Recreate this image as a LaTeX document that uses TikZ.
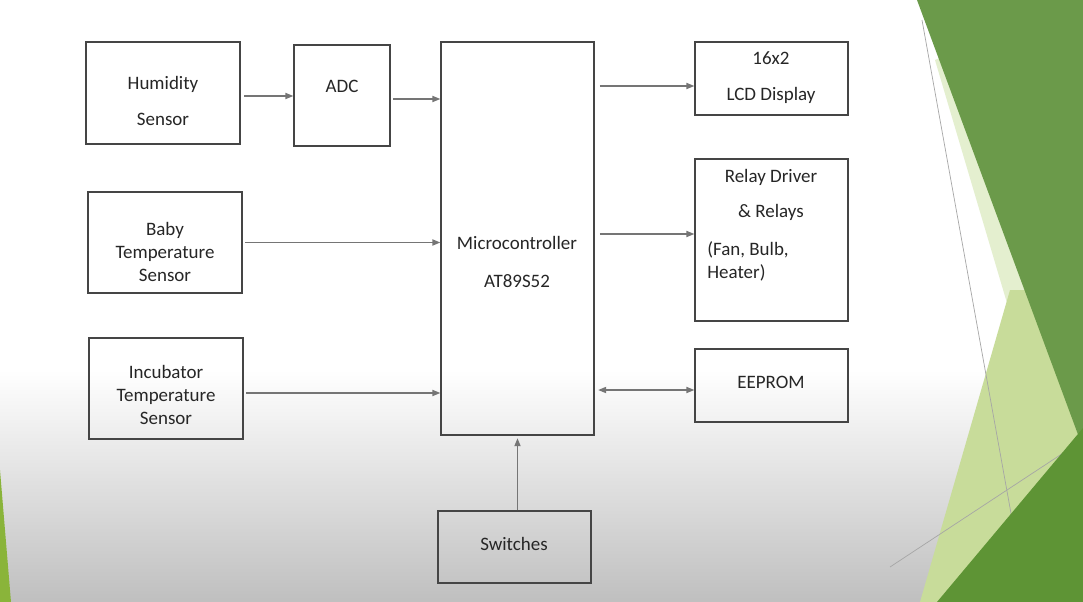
\documentclass[tikz,border=0pt]{standalone}
\usepackage{fontspec}
\setmainfont{Carlito}
\usepackage{tikz}
\usetikzlibrary{arrows.meta}

\definecolor{boxline}{HTML}{454545}
\definecolor{wire}{HTML}{757575}
\definecolor{ink}{HTML}{262626}
\definecolor{leafdark}{HTML}{6B9A4A}
\definecolor{leafmid}{HTML}{5E9435}
\definecolor{leaflight}{HTML}{C8DC9A}
\definecolor{leafpale}{HTML}{E4EFCF}
\definecolor{leafleft}{HTML}{8AB43A}

\begin{document}
\begin{tikzpicture}[x=0.02cm,y=-0.02cm,
  blk/.style={draw=boxline,line width=0.8pt,minimum width=3.06cm,inner sep=0pt},
  txt/.style={text=ink,align=center,inner sep=0pt,font=\fontsize{10.8}{13}\selectfont},
  arr/.style={draw=wire,line width=0.7pt,-{Triangle[length=4.5pt,width=3.5pt]},shorten <=1.5pt},
  bdir/.style={draw=wire,line width=0.7pt,{Triangle[length=4.5pt,width=3.5pt]}-{Triangle[length=4.5pt,width=3.5pt]}},
  edge line/.style={draw=gray!70,line width=0.4pt}]
\useasboundingbox (0,0) rectangle (1083,602);
% slide background
\fill[white] (0,0) rectangle (1083,602);
\shade[top color=white,bottom color=gray!50] (0,370) rectangle (1083,602);
\fill[leafleft] (0,470) -- (11,602) -- (0,602) -- cycle;
\fill[leafpale] (935,60) -- (1015,330) -- (1083,330) -- (1083,0) -- cycle;
\fill[leaflight] (920,602) -- (1010,290) -- (1083,290) -- (1083,602) -- cycle;
\draw[edge line] (922,20) -- (1027,602);
\fill[leafdark] (917,0) -- (1083,0) -- (1083,448) -- cycle;
\draw[edge line] (890,567) -- (1083,440);
\fill[leafmid] (937,602) -- (1083,428) -- (1083,602) -- cycle;

% blocks
\node[blk,minimum width=3.08cm,minimum height=2.04cm] (hum) at (163,93) {};
\node[blk,minimum width=1.92cm,minimum height=2.02cm] (adc) at (342,95.5) {};
\node[blk,minimum height=7.86cm] (mcu) at (517.5,238.5) {};
\node[blk,minimum height=1.46cm] (lcd) at (771.5,78.5) {};
\node[blk,minimum height=3.24cm] (relay) at (771.5,240) {};
\node[blk,minimum height=1.46cm] (eeprom) at (771.5,385.5) {};
\node[blk,minimum width=3.08cm,minimum height=2.02cm] (baby) at (165,242.5) {};
\node[blk,minimum width=3.08cm,minimum height=2.02cm] (incub) at (166,388.5) {};
\node[blk,minimum height=1.44cm] (sw) at (514.5,547) {};

% labels
\node[txt] (humtxt) at (163,101) {Humidity\\[7pt]Sensor};
\node[txt] (adctxt) at (342,86) {ADC};
\node[txt] (mcutxt) at (517,262) {Microcontroller\\[8.4pt]AT89S52};
\node[txt] (lcdtxt) at (771,78) {16x2\\[7.6pt]LCD Display};
\node[txt] (relaytxt) at (771,195) {Relay Driver\\[7pt]\& Relays};
\node[txt,align=left,anchor=west] (loadtxt) at (707,261.5) {(Fan, Bulb,\\Heater)};
\node[txt] (eeptxt) at (771,382) {EEPROM};
\node[txt] (babytxt) at (165,252) {Baby\\Temperature\\Sensor};
\node[txt] (inctxt) at (166,395) {Incubator\\Temperature\\Sensor};
\node[txt] (swtxt) at (514,544) {Switches};

% connections
\draw[arr,shorten <=2pt] ([yshift=-0.06cm]hum.east) -- ([yshift=-0.06cm]hum.east -| adc.west);
\draw[arr] ([yshift=-0.07cm]adc.east) -- ([yshift=-0.07cm]adc.east -| mcu.west);
\draw[arr] (baby.east) -- (baby.east -| mcu.west);
\draw[arr] ([yshift=-0.09cm]incub.east) -- ([yshift=-0.09cm]incub.east -| mcu.west);
\draw[arr,shorten <=3pt] ([yshift=-0.15cm]lcd.west -| mcu.east) -- ([yshift=-0.15cm]lcd.west);
\draw[arr,shorten <=3pt] ([yshift=0.12cm]relay.west -| mcu.east) -- ([yshift=0.12cm]relay.west);
\draw[bdir,shorten <=2pt] ([yshift=-0.09cm]eeprom.west -| mcu.east) -- ([yshift=-0.09cm]eeprom.west);
\draw[arr,shorten <=0pt,shorten >=1.5pt] (sw.north -| mcu.south) -- (mcu.south);
\end{tikzpicture}
\end{document}
